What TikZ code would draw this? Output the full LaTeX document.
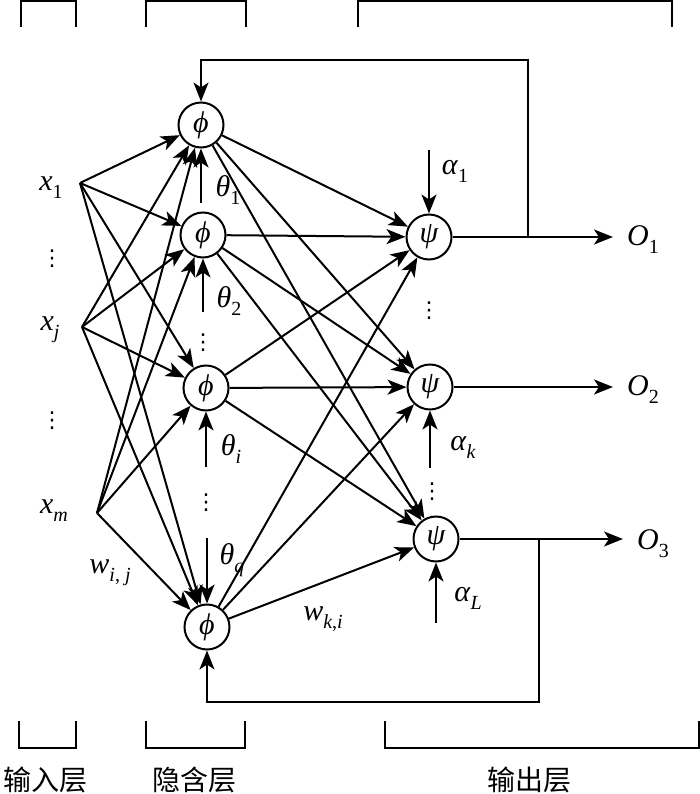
\documentclass[tikz,border=0pt]{standalone}
\usepackage{fontspec}
\setmainfont{Liberation Serif}
\newfontfamily\cjk{Noto Sans CJK SC}
\newfontfamily\sym{DejaVu Sans}
\usepackage{tikz}
\usetikzlibrary{arrows.meta,positioning,calc}

% italic letter with a lowered index
\newcommand{\isub}[2]{\textit{#1}\raisebox{-0.27em}{\fontsize{20}{22}\selectfont#2}}
\newcommand{\vdts}{{\sym\fontsize{22}{24}\selectfont ⋮}}

\begin{document}
\begin{tikzpicture}[x=1pt,y=-1pt,line width=2pt,
    >={Stealth[length=19pt,width=15pt,inset=5pt]},
    neuron/.style={circle,draw,minimum size=45pt,inner sep=0pt,font=\fontsize{30}{32}\selectfont\itshape},
    lbl/.style={font=\fontsize{30}{34}\selectfont,inner sep=0pt},
    layername/.style={font=\cjk\fontsize{28}{32}\selectfont,inner sep=0pt}]

    \useasboundingbox (0,0) rectangle (700,794);

    % ---- layer brackets ----
    \draw (21,27) |- (76,1) -- (76,27);
    \draw (146,27) |- (246,1) -- (246,27);
    \draw (358,27) |- (672,1) -- (672,27);
    \draw (19,721) |- (76,748) -- (76,721);
    \draw (146,721) |- (245,748) -- (245,721);
    \draw (385,721) |- (699,748) -- (699,721);

    \node[layername] (nin)  at (45,780)  {输入层};
    \node[layername] (nhid) at (194,780) {隐含层};
    \node[layername] (nout) at (529,780) {输出层};

    % ---- input layer ----
    \coordinate (x1) at (80,183);
    \coordinate (xj) at (82,327);
    \coordinate (xm) at (97,513);
    \node[lbl] (lx1) at (51,188) {\isub{x}{1}};
    \node[lbl] (lxj) at (50,330) {\isub{x}{\textit{j}}};
    \node[lbl] (lxm) at (54,511) {\isub{x}{\textit{m}}};
    \node[lbl] (dx1) at (52,259) {\vdts};
    \node[lbl] (dx2) at (52,421) {\vdts};

    % ---- hidden layer ----
    \node[neuron] (h1) at (201,125) {ϕ};
    \node[neuron] (h2) at (203,235) {ϕ};
    \node[neuron] (hi) at (206,388) {ϕ};
    \node[neuron] (hq) at (207,627) {ϕ};

    % ---- output layer ----
    \node[neuron] (o1) at (429,237) {ψ};
    \node[neuron] (o2) at (430,387) {ψ};
    \node[neuron] (o3) at (436,539) {ψ};

    % full connections
    \foreach \s in {x1,xj,xm} {
        \foreach \t in {h1,h2,hi,hq} {
            \draw[->] (\s) -- (\t);
        }
    }
    \foreach \s in {h1,h2,hi,hq} {
        \foreach \t in {o1,o2,o3} {
            \draw[->] (\s) -- (\t);
        }
    }

    \node[lbl] (wij) at (110,573) {\isub{w}{\textit{i}, \textit{j}}};
    \node[lbl] (wki) at (323,619) {\isub{w}{\textit{k},\textit{i}}};

    % thresholds of hidden nodes
    \coordinate (t1) at (201,203);
    \coordinate (t2) at (203,312);
    \coordinate (ti) at (206,467);
    \coordinate (tq) at (207,538);
    \draw[->] (t1) -- (h1.south);
    \draw[->] (t2) -- (h2.south);
    \draw[->] (ti) -- (hi.south);
    \draw[->] (tq) -- (hq.north);
    \node[lbl] (lt1) at (228,190) {\isub{θ}{1}};
    \node[lbl] (lt2) at (229,301) {\isub{θ}{2}};
    \node[lbl] (lti) at (231,449) {\isub{θ}{\textit{i}}};
    \node[lbl] (ltq) at (232,560) {\isub{θ}{\textit{q}}};
    \node[lbl] (dh1) at (203,343) {\vdts};
    \node[lbl] (dh2) at (206,503) {\vdts};

    % thresholds of output nodes
    \coordinate (a1) at (429,150);
    \coordinate (ak) at (430,468);
    \coordinate (aL) at (436,623);
    \draw[->] (a1) -- (o1.north);
    \draw[->] (ak) -- (o2.south);
    \draw[->] (aL) -- (o3.south);
    \node[lbl] (la1) at (455,171) {\isub{α}{1}};
    \node[lbl] (lak) at (463,447) {\isub{α}{\textit{k}}};
    \node[lbl] (laL) at (468,598) {\isub{α}{\textit{L}}};
    \node[lbl] (do1) at (429,311) {\vdts};
    \node[lbl] (do2) at (432,492) {\vdts};

    % outputs
    \coordinate (e1) at (613,237);
    \coordinate (e2) at (613,387);
    \coordinate (e3) at (623,539);
    \draw[->] (o1) -- (e1);
    \draw[->] (o2) -- (e2);
    \draw[->] (o3) -- (e3);
    \node[lbl] (lo1) at (643,240) {\isub{O}{1}};
    \node[lbl] (lo2) at (643,390) {\isub{O}{2}};
    \node[lbl] (lo3) at (653,544) {\isub{O}{3}};

    % feedback loops
    \coordinate (fb1) at (528,237);
    \coordinate (fbtop) at (201,60);
    \draw[->] (fb1) |- (fbtop) -- (h1.north);
    \coordinate (fb3) at (539,539);
    \coordinate (fbbot) at (207,702);
    \draw[->] (fb3) |- (fbbot) -- (hq.south);

\end{tikzpicture}
\end{document}
